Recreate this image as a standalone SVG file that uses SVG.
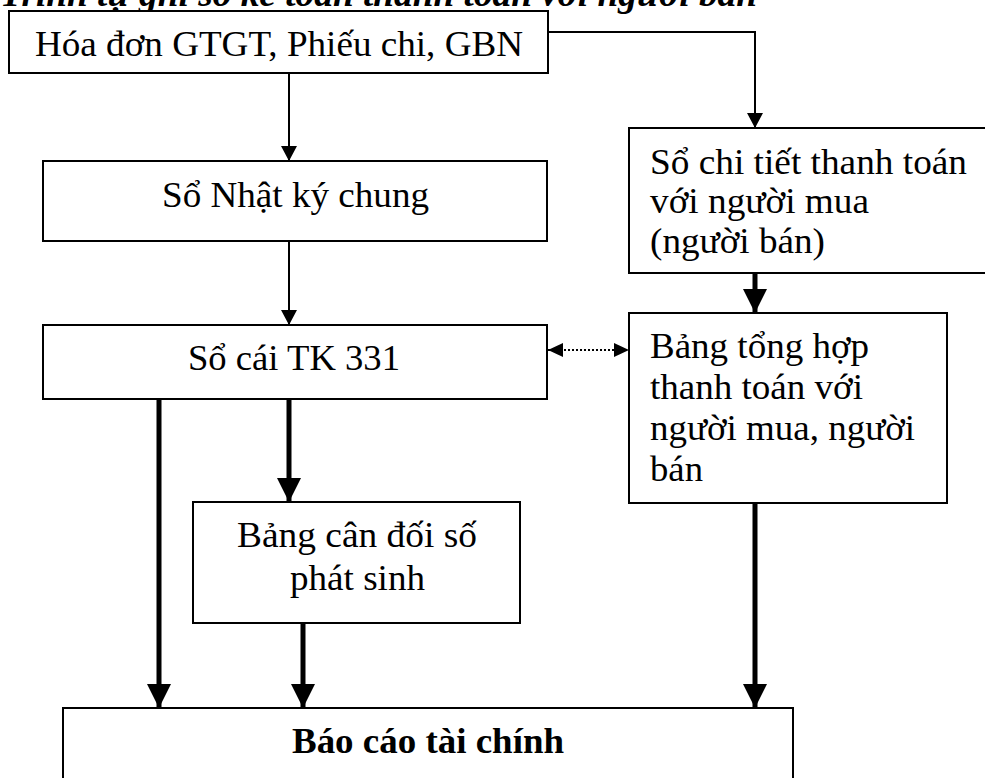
<svg xmlns="http://www.w3.org/2000/svg" width="985" height="778" viewBox="0 0 985 778">
  <style>
    .box { fill: #ffffff; stroke: #000000; stroke-width: 2; }
    .t { font-family: 'Liberation Serif', 'Times New Roman', 'DejaVu Serif', serif; font-size: 36px; fill: #000000; }
    .b { font-weight: bold; }
    .title { font-weight: bold; font-style: italic; }
    .thin { stroke: #000000; stroke-width: 2; fill: none; }
    .thick { stroke: #000000; stroke-width: 5; fill: none; }
    .dot { stroke: #000000; stroke-width: 2; stroke-dasharray: 2 2; fill: none; }
  </style>
  <defs>
    <marker id="headThin" markerUnits="userSpaceOnUse" markerWidth="15" markerHeight="16" refX="15" refY="8" orient="auto">
      <path d="M0,0 L15,8 L0,16 Z" fill="#000000"/>
    </marker>
    <marker id="headThick" markerUnits="userSpaceOnUse" markerWidth="24" markerHeight="24" refX="24" refY="12" orient="auto">
      <path d="M0,0 L24,12 L0,24 Z" fill="#000000"/>
    </marker>
    <marker id="headDot" markerUnits="userSpaceOnUse" markerWidth="15" markerHeight="14" refX="15" refY="7" orient="auto-start-reverse">
      <path d="M0,0 L15,7 L0,14 Z" fill="#000000"/>
    </marker>
  </defs>

  <rect x="0" y="0" width="985" height="778" fill="#ffffff"/>

  <!-- heading, clipped by the top edge -->
  <text class="t title" x="0" y="6" textLength="757" lengthAdjust="spacingAndGlyphs">Trình tự ghi sổ kế toán thanh toán với người bán</text>

  <g id="connectors">
    <polyline class="thin" points="548,32 755,32 755,128" marker-end="url(#headThin)"/>
    <line class="thin" x1="289" y1="73" x2="289" y2="161" marker-end="url(#headThin)"/>
    <line class="thin" x1="289" y1="241" x2="289" y2="325" marker-end="url(#headThin)"/>
    <line class="thick" x1="755" y1="273" x2="755" y2="313" marker-end="url(#headThick)"/>
    <line class="dot" x1="548" y1="350" x2="629" y2="350" marker-start="url(#headDot)" marker-end="url(#headDot)"/>
    <line class="thick" x1="159" y1="399" x2="159" y2="708" marker-end="url(#headThick)"/>
    <line class="thick" x1="289" y1="399" x2="289" y2="502" marker-end="url(#headThick)"/>
    <line class="thick" x1="303" y1="623" x2="303" y2="708" marker-end="url(#headThick)"/>
    <line class="thick" x1="755" y1="503" x2="755" y2="708" marker-end="url(#headThick)"/>
  </g>

  <g id="chung-tu">
    <rect class="box" x="9" y="11" width="539" height="62"/>
    <text class="t" x="35" y="56" textLength="488" lengthAdjust="spacingAndGlyphs">Hóa đơn GTGT, Phiếu chi, GBN</text>
  </g>

  <g id="nhat-ky-chung">
    <rect class="box" x="43" y="161" width="504" height="80"/>
    <text class="t" x="162" y="207" textLength="267" lengthAdjust="spacingAndGlyphs">Sổ Nhật ký chung</text>
  </g>

  <g id="so-chi-tiet">
    <rect class="box" x="629" y="128" width="370" height="145"/>
    <text class="t" x="650" y="174" textLength="317" lengthAdjust="spacingAndGlyphs">Sổ chi tiết thanh toán</text>
    <text class="t" x="650" y="213" textLength="219" lengthAdjust="spacingAndGlyphs">với người mua</text>
    <text class="t" x="650" y="253" textLength="175" lengthAdjust="spacingAndGlyphs">(người bán)</text>
  </g>

  <g id="so-cai">
    <rect class="box" x="43" y="325" width="504" height="74"/>
    <text class="t" x="188" y="370" textLength="212" lengthAdjust="spacingAndGlyphs">Sổ cái TK 331</text>
  </g>

  <g id="bang-tong-hop">
    <rect class="box" x="629" y="313" width="318" height="190"/>
    <text class="t" x="650" y="358" textLength="219" lengthAdjust="spacingAndGlyphs">Bảng tổng hợp</text>
    <text class="t" x="650" y="399" textLength="213" lengthAdjust="spacingAndGlyphs">thanh toán với</text>
    <text class="t" x="650" y="440" textLength="265" lengthAdjust="spacingAndGlyphs">người mua, người</text>
    <text class="t" x="650" y="481" textLength="53" lengthAdjust="spacingAndGlyphs">bán</text>
  </g>

  <g id="bang-can-doi">
    <rect class="box" x="193" y="502" width="327" height="121"/>
    <text class="t" x="237" y="547" textLength="240" lengthAdjust="spacingAndGlyphs">Bảng cân đối số</text>
    <text class="t" x="290" y="590" textLength="135" lengthAdjust="spacingAndGlyphs">phát sinh</text>
  </g>

  <g id="bao-cao-tai-chinh">
    <rect class="box" x="63" y="708" width="730" height="90"/>
    <text class="t b" x="292" y="753" textLength="272" lengthAdjust="spacingAndGlyphs">Báo cáo tài chính</text>
  </g>
</svg>
